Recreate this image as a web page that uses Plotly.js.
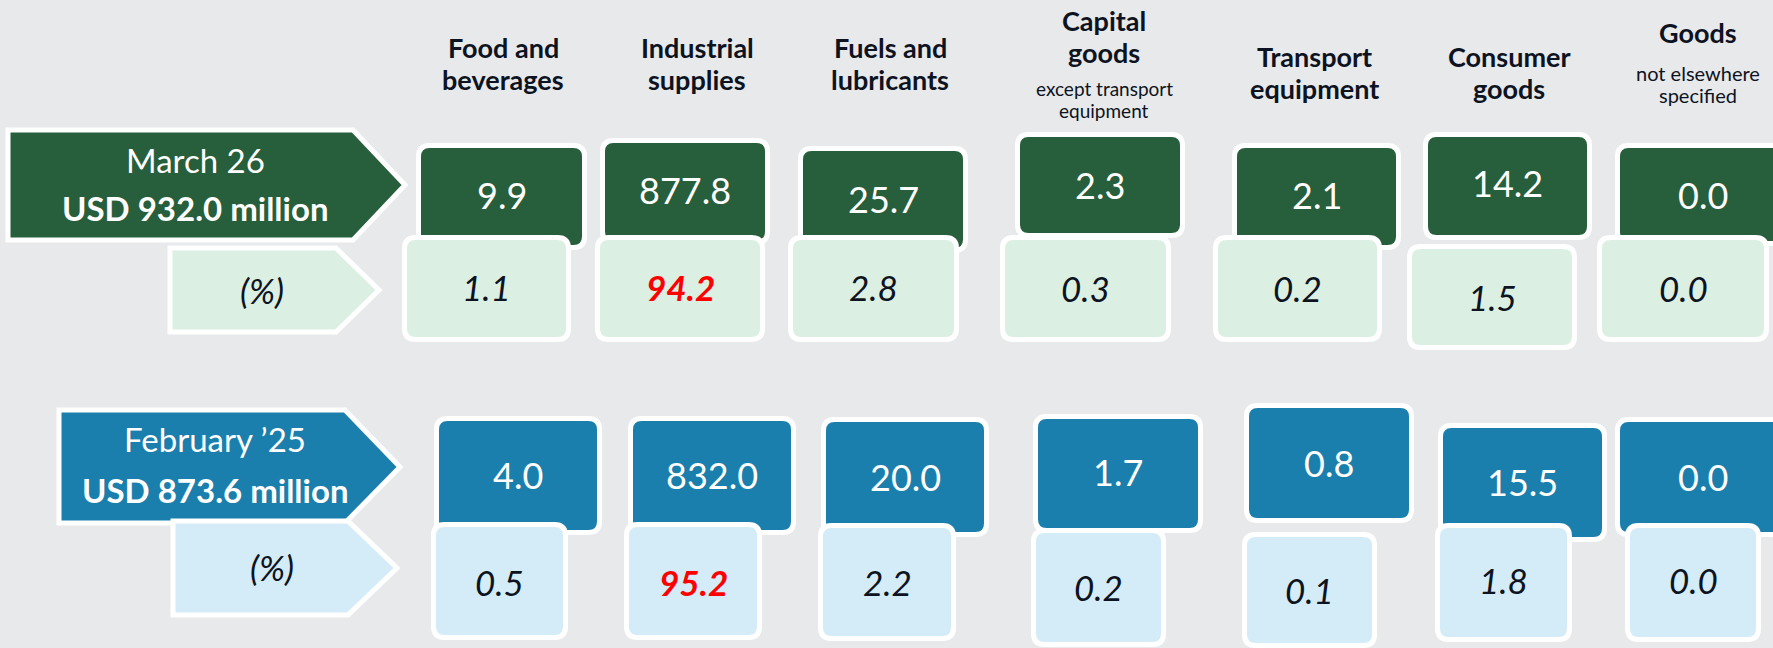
<!DOCTYPE html>
<html>
<head>
<meta charset="utf-8">
<script src="https://cdn.plot.ly/plotly-3.0.1.min.js"></script>
<style>html,body{margin:0;padding:0;background:#e8e9eb;}#chart{width:1773px;height:648px;}</style>
</head>
<body>
<div id="chart"></div>
<script>
// ---------------- DATA ----------------
const categoryTitles = ["Food and<br>beverages", "Industrial<br>supplies", "Fuels and<br>lubricants", "Capital<br>goods", "Transport<br>equipment", "Consumer<br>goods", "Goods"];
const categoryNotes = ["", "", "", "except transport<br>equipment", "", "", "not elsewhere<br>specified"];
const periodLabels = ["March 26", "February \u201925"];
const periodTotals = [932.0, 873.6];
const march26Values = [9.9, 877.8, 25.7, 2.3, 2.1, 14.2, 0.0];
const march26Shares = [1.1, 94.2, 2.8, 0.3, 0.2, 1.5, 0.0];
const feb25Values = [4.0, 832.0, 20.0, 1.7, 0.8, 15.5, 0.0];
const feb25Shares = [0.5, 95.2, 2.2, 0.2, 0.1, 1.8, 0.0];

// ---------------- LAYOUT / STYLE ----------------
const FONT = 'Lato, "Open Sans", sans-serif';
const BG = '#e8e9eb';
const INK = '#0d1321';
const LINE_W = 5;
const RADIUS = 11;

const rows = [
  {values: march26Values, shares: march26Shares, dark: '#275e3b', light: '#dcefe3',
   arrow: {x0: 8, y0: 130, y1: 240, xr: 353, tip: 405, ym: 185},
   pctArrow: {x0: 170, y0: 248, y1: 332, xr: 336, tip: 379, ym: 290},
   labelX: 195, labelY: [160, 208], pctLabel: [262, 290],
   darkBoxes: [[416,143,587,250],[600,138,770,245],[798,146,968,253],[1015,132,1185,238],[1232,143,1401,250],[1423,132,1592,240],[1615,143,1790,246]],
   lightBoxes: [[402,235,571,342],[595,235,765,342],[788,235,959,342],[1000,235,1171,342],[1213,235,1382,342],[1407,244,1577,350],[1597,235,1769,342]],
   valueY: [195,190,199,185,195,183,195],
   shareY: [287,287,287,288,288,297,288]},
  {values: feb25Values, shares: feb25Shares, dark: '#1b7fad', light: '#d4ecf7',
   arrow: {x0: 59, y0: 410, y1: 523, xr: 345, tip: 400, ym: 467},
   pctArrow: {x0: 173, y0: 521, y1: 615, xr: 348, tip: 397, ym: 568},
   labelX: 215, labelY: [439, 490], pctLabel: [272, 567],
   darkBoxes: [[434,416,602,535],[628,416,796,535],[821,417,989,537],[1033,414,1203,533],[1244,403,1414,523],[1438,423,1607,542],[1615,417,1790,537]],
   lightBoxes: [[431,522,568,640],[624,522,762,640],[818,523,956,641],[1031,528,1166,647],[1242,532,1377,648],[1435,523,1572,642],[1625,523,1761,642]],
   valueY: [475,475,477,472,463,482,477],
   shareY: [582,582,582,587,590,580,580]}
];
const headerX = [503, 697, 890, 1104, 1314, 1509, 1698];
const headerLineY = [[47, 79], [47, 79], [47, 79], [20, 52], [56, 88], [56, 88], [32]];
const noteLineY = [[], [], [], [88, 110], [], [], [73, 95]];
const noteSize = [0, 0, 0, 19, 0, 0, 20];

function roundRect(b, r) {
  const h = LINE_W / 2;
  const x0 = b[0] + h, y0 = b[1] + h, x1 = b[2] - h, y1 = b[3] - h;
  return `M ${x0+r},${y0} L ${x1-r},${y0} Q ${x1},${y0} ${x1},${y0+r} L ${x1},${y1-r} Q ${x1},${y1} ${x1-r},${y1} ` +
         `L ${x0+r},${y1} Q ${x0},${y1} ${x0},${y1-r} L ${x0},${y0+r} Q ${x0},${y0} ${x0+r},${y0} Z`;
}
function arrowPath(a) {
  return `M ${a.x0},${a.y0} L ${a.xr},${a.y0} L ${a.tip},${a.ym} L ${a.xr},${a.y1} L ${a.x0},${a.y1} Z`;
}
function shape(path, fill) {
  return {type: 'path', xref: 'x', yref: 'y', path: path, fillcolor: fill,
          line: {color: '#ffffff', width: LINE_W}, layer: 'above'};
}
function ann(x, y, text, size, color) {
  return {x: x, y: y, xref: 'x', yref: 'y', text: text, showarrow: false,
    xanchor: 'center', yanchor: 'middle', font: {family: FONT, size: size, color: color}};
}

const shapes = [];
const annotations = [];

// headers
categoryTitles.forEach((t, i) => {
  t.split('<br>').forEach((line, k) => annotations.push(ann(headerX[i], headerLineY[i][k], '<b>' + line + '</b>', 27, INK)));
  if (categoryNotes[i]) {
    categoryNotes[i].split('<br>').forEach((line, k) => annotations.push(ann(headerX[i], noteLineY[i][k], line, noteSize[i], INK)));
  }
});

rows.forEach((row, ri) => {
  shapes.push(shape(arrowPath(row.arrow), row.dark));
  shapes.push(shape(arrowPath(row.pctArrow), row.light));
  row.darkBoxes.forEach(b => shapes.push(shape(roundRect(b, RADIUS), row.dark)));
  row.lightBoxes.forEach(b => shapes.push(shape(roundRect(b, RADIUS), row.light)));

  annotations.push(ann(row.labelX, row.labelY[0], periodLabels[ri], 33, '#ffffff'));
  annotations.push(ann(row.labelX, row.labelY[1], '<b>USD ' + periodTotals[ri].toFixed(1) + ' million</b>', 33, '#ffffff'));
  annotations.push(ann(row.pctLabel[0], row.pctLabel[1], '<i>(%)</i>', 35, INK));

  const maxShare = Math.max.apply(null, row.shares);
  row.values.forEach((v, i) => {
    const b = row.darkBoxes[i];
    annotations.push(ann((b[0] + b[2]) / 2, row.valueY[i], v.toFixed(1), 36, '#ffffff'));
  });
  row.shares.forEach((s, i) => {
    const b = row.lightBoxes[i];
    const cx = (b[0] + b[2]) / 2;
    const isMax = s === maxShare;
    annotations.push(ann(cx, row.shareY[i], isMax ? '<b><i>' + s.toFixed(1) + '</i></b>' : '<i>' + s.toFixed(1) + '</i>',
      35, isMax ? '#ff0000' : INK));
  });
});

const layout = {
  width: 1773, height: 648,
  margin: {l: 0, r: 0, t: 0, b: 0, pad: 0},
  paper_bgcolor: BG, plot_bgcolor: BG,
  showlegend: false,
  xaxis: {range: [0, 1773], visible: false, fixedrange: true},
  yaxis: {range: [648, 0], visible: false, fixedrange: true},
  shapes: shapes,
  annotations: annotations
};
const traces = [{x: [0, 1773], y: [0, 648], mode: 'markers', marker: {opacity: 0}, hoverinfo: 'skip', type: 'scatter'}];
Plotly.newPlot('chart', traces, layout, {displayModeBar: false, staticPlot: true});
</script>
</body>
</html>
